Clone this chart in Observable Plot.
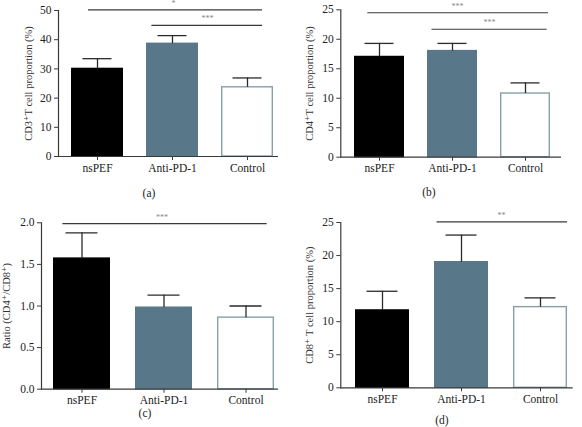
<!DOCTYPE html>
<html>
<head>
<meta charset="utf-8">
<script src="https://cdn.jsdelivr.net/npm/d3@7"></script>
<script src="https://cdn.jsdelivr.net/npm/@observablehq/plot@0.6"></script>
<style>
  html, body { margin: 0; padding: 0; background: #fff; }
  #fig { position: relative; width: 582px; height: 427px; overflow: hidden; font-family: "Liberation Serif", "DejaVu Serif", serif; }
  .cell { position: absolute; width: 291px; height: 213px; }
  .cell svg { position: absolute; left: 0; top: 0; font-family: "Liberation Serif", "DejaVu Serif", serif !important; }
  .cap { position: absolute; transform: translate(-50%, -50%); font-size: 11.5px; color: #222; white-space: nowrap; }
</style>
</head>
<body>
<div id="fig"></div>
<script>
// ---- data ----
const groups = ["nsPEF", "Anti-PD-1", "Control"];

const cd3Mean = [30.0, 38.6, 23.7];
const cd3Sd   = [3.5, 2.8, 3.2];

const cd4Mean = [17.0, 18.0, 10.8];
const cd4Sd   = [2.3, 1.3, 1.8];

const ratioMean = [1.57, 0.98, 0.86];
const ratioSd   = [0.31, 0.15, 0.14];

const cd8Mean = [11.7, 19.0, 12.2];
const cd8Sd   = [2.9, 4.1, 1.4];

const cd3Ticks = [0, 10, 20, 30, 40, 50];
const cd4Ticks = [0, 5, 10, 15, 20, 25];
const ratioTicks = [0, 0.5, 1.0, 1.5, 2.0];
const cd8Ticks = [0, 5, 10, 15, 20, 25];

const cd3Sig = [
  {from: "nsPEF", to: "Control", y: 50.2, label: "*"},
  {from: "Anti-PD-1", to: "Control", y: 44.9, label: "***"}
];
const cd4Sig = [
  {from: "nsPEF", to: "Control", y: 24.5, label: "***"},
  {from: "Anti-PD-1", to: "Control", y: 21.7, label: "***"}
];
const ratioSig = [
  {from: "nsPEF", to: "Control", y: 1.99, label: "***"}
];
const cd8Sig = [
  {from: "Anti-PD-1", to: "Control", y: 25.1, label: "**"}
];

const panelLetters = ["(a)", "(b)", "(c)", "(d)"];
const yLabels = [
  "CD3\u207AT cell proportion (%)",
  "CD4\u207AT cell proportion (%)",
  "Ratio (CD4\u207A/CD8\u207A)",
  "CD8\u207A T cell proportion (%)"
];

// ---- styling ----
const fillColors = ["#000000", "#587889", "#ffffff"];
const strokeColors = ["#000000", "#587889", "#86a0a6"];
const axisColor = "#3a3a3a";
const font = '"Liberation Serif", "DejaVu Serif", serif';

function panel(o) {
  const rows = groups.map((g, i) => ({g, mean: o.mean[i], hi: o.mean[i] + o.sd[i], i}));
  const marks = [
    Plot.barY(rows, {x: "g", y: "mean", fill: d => fillColors[d.i], stroke: d => strokeColors[d.i], strokeWidth: 1.4, insetLeft: 0.7, insetRight: 0.7}),
    Plot.ruleX(rows, {x: "g", y1: "mean", y2: "hi", stroke: "#2a2a2a", strokeWidth: 1.3}),
    Plot.tickY(rows, {x: "g", y: "hi", stroke: "#2a2a2a", strokeWidth: 1.3, insetLeft: o.capInset, insetRight: o.capInset}),
    Plot.frame({anchor: "left", stroke: axisColor, strokeWidth: 1.2}),
    Plot.ruleY([0], {stroke: axisColor, strokeWidth: 1.2}),
    Plot.axisY({ticks: o.ticks, tickSize: 4, tickPadding: 3, label: null, tickFormat: o.fmt, fontSize: 11.5, fontFamily: font, fill: "#222", stroke: axisColor}),
    Plot.axisX({tickSize: 4, tickPadding: 3, label: null, fontSize: 11.5, fontFamily: font, fill: "#222", stroke: axisColor}),
    Plot.text([o.ylabel], {frameAnchor: "left", text: d => d, rotate: -90, textAnchor: "middle", lineAnchor: "middle", dx: o.ylabelDx, fontSize: 10.5, fill: "#333", fontFamily: font})
  ];
  o.sig.forEach((s, k) => {
    const ins = o.sigInsets[k];
    const anchorCat = o.starAt[k][0];
    marks.push(Plot.ruleY([s], {x1: "from", x2: "to", y: "y", stroke: "#3a3a3a", strokeWidth: 1.1, insetLeft: ins[0], insetRight: ins[1]}));
    marks.push(Plot.text([s], {x: () => anchorCat, y: "y", text: "label", dx: o.starAt[k][1], dy: -4, lineAnchor: "bottom", fontSize: 8, fill: "#888", fontFamily: font}));
  });
  return Plot.plot({
    width: 291,
    height: o.height,
    marginLeft: o.ml,
    marginRight: o.mr,
    marginTop: o.mt,
    marginBottom: o.mb,
    style: {fontFamily: font, background: "transparent", overflow: "visible"},
    x: {domain: groups, range: o.xr, paddingInner: o.pad, paddingOuter: 0},
    y: {domain: [o.ticks[0], o.ticks[o.ticks.length - 1]]},
    marks
  });
}

const configs = [
  {mean: cd3Mean, sd: cd3Sd, ticks: cd3Ticks, sig: cd3Sig, ylabel: yLabels[0], fmt: d3.format("d"),
   height: 185, ml: 58, mr: 13, mt: 10, mb: 29, xr: [70, 274], pad: 0.31, capInset: 11.5, ylabelDx: -30,
   sigInsets: [[17, 11], [5.4, 11]], starAt: [["Anti-PD-1", 1], ["Anti-PD-1", 35]],
   left: 0, top: 0, cap: [149, 193]},
  {mean: cd4Mean, sd: cd4Sd, ticks: cd4Ticks, sig: cd4Sig, ylabel: yLabels[1], fmt: d3.format("d"),
   height: 185, ml: 49.3, mr: 21, mt: 9.3, mb: 28.3, xr: [61.7, 259], pad: 0.32, capInset: 10.5, ylabelDx: -31.3,
   sigInsets: [[13.3, 2], [4.5, 3.3]], starAt: [["Anti-PD-1", 5], ["Anti-PD-1", 37]],
   left: 291, top: 0, cap: [138, 192]},
  {mean: ratioMean, sd: ratioSd, ticks: ratioTicks, sig: ratioSig, ylabel: yLabels[2], fmt: d3.format(".1f"),
   height: 200, ml: 41, mr: 13, mt: 9.3, mb: 24.3, xr: [53.3, 274], pad: 0.31, capInset: 12.5, ylabelDx: -35,
   sigInsets: [[9.4, 7.3]], starAt: [["Anti-PD-1", -2]],
   left: 0, top: 213, cap: [145, 200]},
  {mean: cd8Mean, sd: cd8Sd, ticks: cd8Ticks, sig: cd8Sig, ylabel: yLabels[3], fmt: d3.format("d"),
   height: 200, ml: 49.3, mr: 9.3, mt: 9, mb: 25.7, xr: [63.3, 277.3], pad: 0.32, capInset: 11.5, ylabelDx: -31.3,
   sigInsets: [[2.5, 0]], starAt: [["Anti-PD-1", 40]],
   left: 291, top: 213, cap: [151, 207]}
];

const fig = document.getElementById("fig");
configs.forEach((c, k) => {
  const cell = document.createElement("div");
  cell.className = "cell";
  cell.style.left = c.left + "px";
  cell.style.top = c.top + "px";
  cell.appendChild(panel(c));
  const cap = document.createElement("div");
  cap.className = "cap";
  cap.style.left = c.cap[0] + "px";
  cap.style.top = c.cap[1] + "px";
  cap.textContent = panelLetters[k];
  cell.appendChild(cap);
  fig.appendChild(cell);
});
</script>
</body>
</html>
